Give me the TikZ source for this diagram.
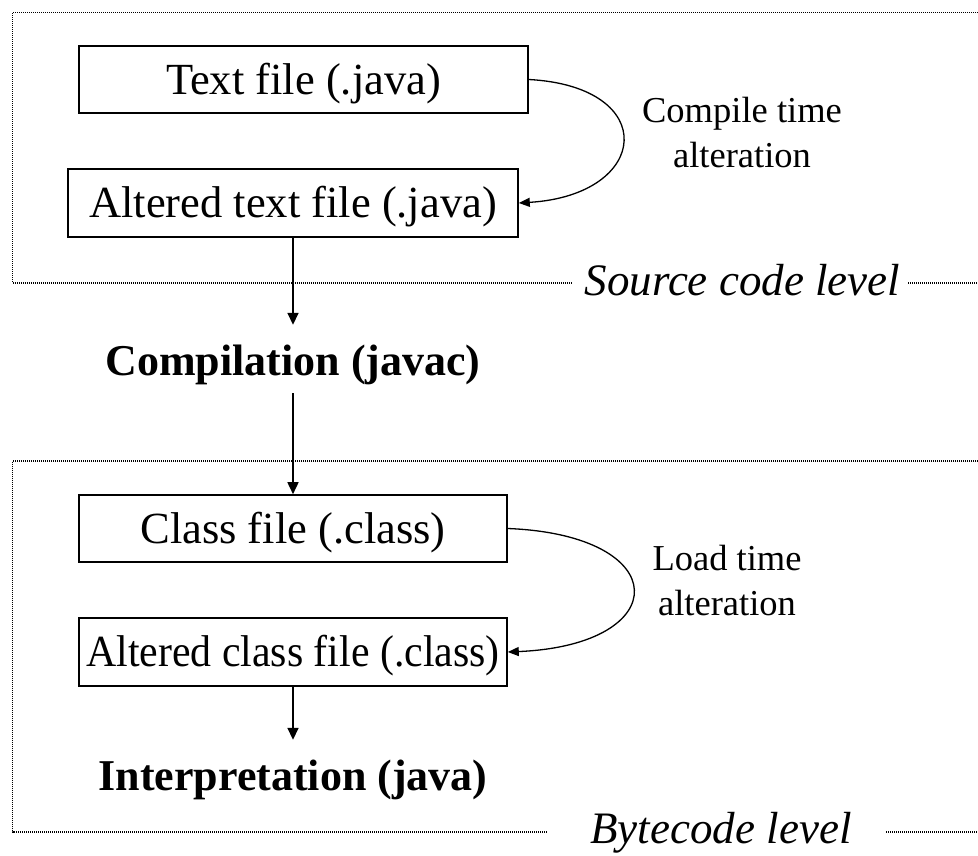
\documentclass[tikz,border=0pt]{standalone}
\usepackage{fontspec}
\setmainfont{Liberation Serif}
\usetikzlibrary{arrows.meta}
\begin{document}
\begin{tikzpicture}[x=1pt,y=-1pt,
  filebox/.style={draw, line width=1.6pt, inner sep=0pt, text height=30pt, text depth=0.6pt,
    font=\fontsize{44.5}{53}\selectfont},
  stage/.style={font=\bfseries\fontsize{44}{53}\selectfont, inner sep=0pt, text height=50pt, text depth=18pt},
  note/.style={align=center, font=\fontsize{36.5}{45}\selectfont, inner sep=0pt, anchor=base},
  level/.style={font=\itshape\fontsize{45}{54}\selectfont, inner sep=0pt, anchor=base},
  frame/.style={line width=1.1pt, dash pattern=on 1pt off 1pt},
  flow/.style={line width=1.6pt, -{Triangle[length=12pt,width=11pt]}},
  alter/.style={line width=1.3pt, -{Triangle[length=11pt,width=9pt]}}
]
\useasboundingbox (0,0) rectangle (978,855);

% source code level
\node[filebox, minimum width=449pt, minimum height=67pt] (txt) at (303.5,79.5) {Text file (.java)};
\node[filebox, minimum width=450pt, minimum height=68pt] (alttxt) at (293,203) {Altered text file (.java)};
\node[note] (ct) at (742,167) {Compile time\\alteration};
\node[level] (src) at (742.5,295) {Source code level};

% compilation step
\node[stage] (comp) at (293,359) {Compilation (javac)};

% bytecode level
\node[filebox, minimum width=428pt, minimum height=67pt] (cls) at (293,528.5) {Class file (.class)};
\node[filebox, minimum width=428pt, minimum height=68pt] (altcls) at (293,652) {\scalebox{0.94}[1]{Altered class file (.class)}};
\node[note] (lt) at (727,615) {Load time\\alteration};
\node[stage] (interp) at (293,774) {Interpretation (java)};
\node[level] (byte) at (721,843) {Bytecode level};

% level frames
\draw[frame] (978,12.7) -- (12.6,12.7) -- (12.6,283) -- (571,283);
\draw[frame] (908,283) -- (978,283);
\draw[frame] (978,461) -- (12.6,461) -- (12.6,832) -- (548,832);
\draw[frame] (886,832) -- (978,832);

% flow
\draw[flow] (alttxt.south) -- (comp.north);
\draw[flow] (comp.south) -- (cls.north);
\draw[flow] (altcls.south) -- (interp.north);
\draw[alter] (txt.east) .. controls +(132,7) and +(132,-8) .. (alttxt.east);
\draw[alter] (cls.east) .. controls +(167,6.5) and +(167,-7) .. (altcls.east);
\end{tikzpicture}
\end{document}
